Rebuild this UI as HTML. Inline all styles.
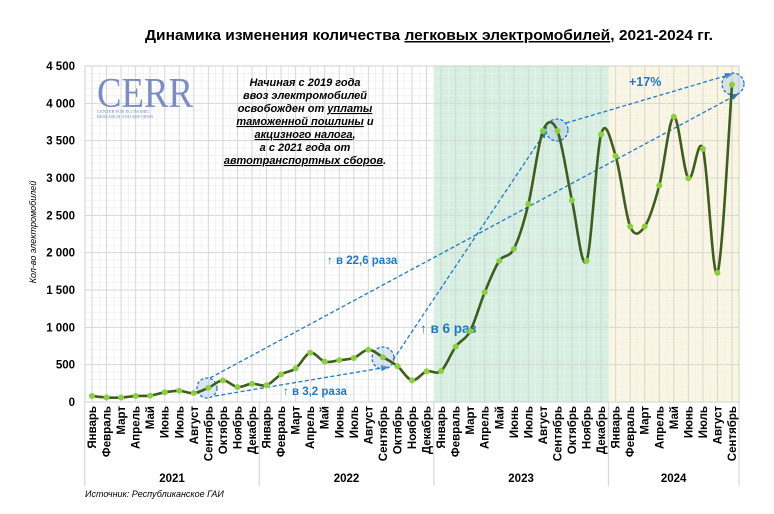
<!DOCTYPE html>
<html><head><meta charset="utf-8"><style>
body{margin:0;background:#fff;width:774px;height:509px;overflow:hidden}
svg text{font-family:"Liberation Sans",Arial,sans-serif}
</style></head><body>
<svg id="s" width="774" height="509" xmlns="http://www.w3.org/2000/svg"></svg>
<script>
const S=document.getElementById('s');let h='';
const X0=85,X1=739,Y0=402,k=336/4500,x0=92,st=640/44;
const xi=i=>x0+i*st, yv=v=>Y0-v*k;
h+=`<rect x="434" y="66" width="175" height="336" fill="#d5efe0"/>`;
h+=`<rect x="609" y="66" width="130" height="336" fill="#fbf6e2"/>`;
for(let v=0;v<=4500;v+=100){let y=yv(v);h+=`<line x1="${X0}" x2="${X1}" y1="${y}" y2="${y}" stroke="${v%500?'#eef0ee':'#d6d6d6'}" stroke-width="${v%500?0.7:1}"/>`}
for(let i=-0.5;i<=44.5;i+=0.5){let x=xi(i);h+=`<line x1="${x}" x2="${x}" y1="66" y2="402" stroke="${i%1?'#eef0ee':'#d6d6d6'}" stroke-width="${i%1?0.7:1}"/>`}
h+=`<rect x="${X0}" y="66" width="${X1-X0}" height="336" fill="none" stroke="#d0d0d0"/>`;
for(let v=0;v<=4500;v+=500){h+=`<text x="75" y="${yv(v)+4}" text-anchor="end" font-size="11.5" font-weight="bold">${v>=1000?Math.floor(v/1000)+' '+String(v%1000).padStart(3,'0'):v}</text>`}
h+=`<text transform="translate(36,232) rotate(-90)" text-anchor="middle" font-size="9" font-style="italic">Кол-во электромобилей</text>`;
const M=['Январь','Февраль','Март','Апрель','Май','Июнь','Июль','Август','Сентябрь','Октябрь','Ноябрь','Декабрь'];
for(let i=0;i<45;i++){h+=`<text transform="translate(${xi(i)+4},406) rotate(-90)" text-anchor="end" font-size="11.5" font-weight="bold">${M[i%12]}</text>`}
[0,1,2,3].forEach(j=>{let a=xi(j*12-0.5),b=j<3?xi(j*12+11.5):X1;h+=`<line x1="${a}" x2="${a}" y1="402" y2="486" stroke="#d0d0d0"/>`;h+=`<text x="${(a+b)/2}" y="482" text-anchor="middle" font-size="11.5" font-weight="bold">${2021+j}</text>`});
h+=`<line x1="${X1}" x2="${X1}" y1="402" y2="486" stroke="#d0d0d0"/>`;
h+=`<text x="85" y="497" font-size="9" font-style="italic">Источник: Республиканское ГАИ</text>`;
h+=`<text x="429" y="40" text-anchor="middle" font-size="15" font-weight="bold" textLength="568" lengthAdjust="spacingAndGlyphs">Динамика изменения количества <tspan text-decoration="underline">легковых электромобилей</tspan>, 2021-2024 гг.</text>`;
h+=`<text x="97" y="107" font-size="42" fill="#7b8cc4" textLength="96" lengthAdjust="spacingAndGlyphs" style="font-family:'Liberation Serif',serif">CERR</text>`;
h+=`<text x="97" y="113" font-size="4.5" fill="#7b8cc4" style="font-family:'Liberation Serif',serif">CENTER FOR ECONOMIC</text><text x="97" y="118" font-size="4.5" fill="#7b8cc4" style="font-family:'Liberation Serif',serif">RESEARCH AND REFORMS</text>`;
const L=['Начиная с 2019 года','ввоз электромобилей','освобожден от <tspan text-decoration="underline">уплаты</tspan>','<tspan text-decoration="underline">таможенной пошлины</tspan> и','<tspan text-decoration="underline">акцизного налога</tspan>,','а с 2021 года от','<tspan text-decoration="underline">автотранспортных сборов</tspan>.'];
L.forEach((l,i)=>h+=`<text x="305" y="${86+i*13}" text-anchor="middle" font-size="11" font-weight="bold" font-style="italic">${l}</text>`);
const B='#1f78c8';
h+=`<defs><marker id="a" markerWidth="8" markerHeight="8" refX="7" refY="4" orient="auto" markerUnits="userSpaceOnUse"><path d="M0,1 L8,4 L0,7Z" fill="${B}"/></marker></defs>`;
const ar=(a,b,c,d)=>h+=`<line x1="${a}" y1="${b}" x2="${c}" y2="${d}" stroke="${B}" stroke-width="1.3" stroke-dasharray="4,2.5" marker-end="url(#a)"/>`;
ar(210,378,738,94);ar(215,396,388,367);ar(393,360,546,131);ar(566,123,732,74);
[[207,388,10],[383,358,11],[557,130,11],[733,84,11]].forEach(c=>h+=`<circle cx="${c[0]}" cy="${c[1]}" r="${c[2]}" fill="rgba(160,190,220,0.35)" stroke="${B}" stroke-width="1.3" stroke-dasharray="3,2"/>`);
h+=`<text x="327" y="264" font-size="11.5" font-weight="bold" fill="${B}">↑ в 22,6 раза</text>`;
h+=`<text x="283" y="395" font-size="11.5" font-weight="bold" fill="${B}">↑ в 3,2 раза</text>`;
h+=`<text x="420" y="333" font-size="13.5" font-weight="bold" fill="${B}">↑ в 6 раз</text>`;
h+=`<text x="629" y="86" font-size="12.5" font-weight="bold" fill="${B}">+17%</text>`;
const D=[80,60,60,80,85,130,150,120,190,290,200,245,225,370,450,660,540,560,590,700,600,480,290,410,415,740,950,1470,1890,2050,2650,3630,3630,2700,1890,3585,3295,2350,2350,2900,3820,2995,3390,1730,4250];
const P=D.map((v,i)=>[xi(i),yv(v)]);
let d=`M${P[0][0]},${P[0][1]}`;
for(let i=0;i<P.length-1;i++){const p0=P[i-1]||P[i],p1=P[i],p2=P[i+1],p3=P[i+2]||p2,t=6;
d+=` C${p1[0]+(p2[0]-p0[0])/t},${p1[1]+(p2[1]-p0[1])/t} ${p2[0]-(p3[0]-p1[0])/t},${p2[1]-(p3[1]-p1[1])/t} ${p2[0]},${p2[1]}`}
h+=`<path d="${d}" fill="none" stroke="#3d5e1e" stroke-width="2.6"/>`;
P.forEach(p=>h+=`<circle cx="${p[0]}" cy="${p[1]}" r="3" fill="#8ccf3e"/>`);
S.innerHTML=h;
</script>
</body></html>
